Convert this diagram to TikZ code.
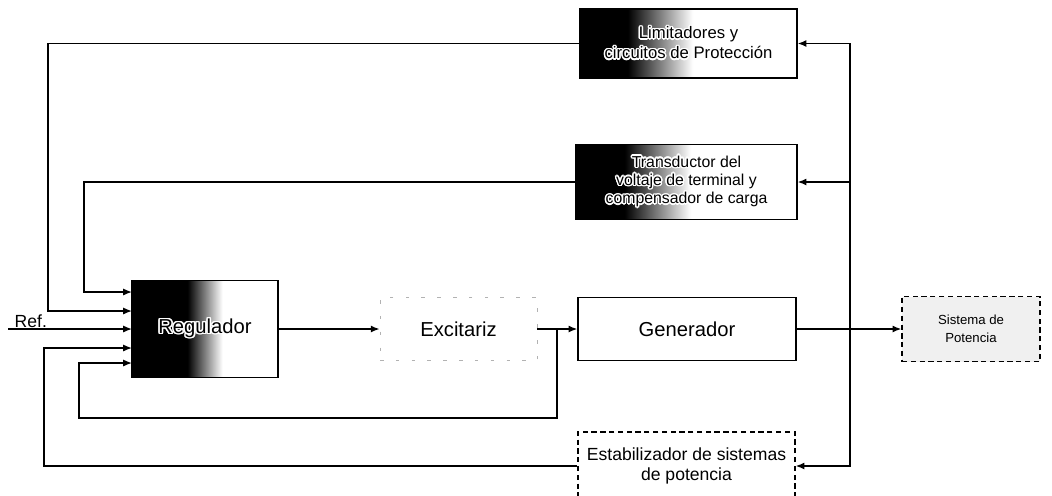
\documentclass[tikz,border=0pt]{standalone}
\usepackage{fontspec}
\setmainfont{Liberation Sans}
\usepackage{contour}
\usepackage{tikz}
\usetikzlibrary{positioning,arrows.meta}
\contourlength{0.8pt}
\pgfdeclarehorizontalshading{regshade}{100bp}{color(0bp)=(black); color(44bp)=(black); color(56bp)=(white); color(100bp)=(white)}
\pgfdeclarehorizontalshading{limshade}{100bp}{color(0bp)=(black); color(36bp)=(black); color(51bp)=(white); color(100bp)=(white)}
\newcommand{\cw}[1]{\contour{white}{#1}}

\begin{document}
\begin{tikzpicture}[x=0.02cm, y=-0.02cm, line width=0.8pt, >={Latex[length=5pt,width=4pt]},
  bloque/.style={draw, inner sep=2pt, align=center},
  grande/.style={font=\fontsize{11.5}{13}\selectfont}]
\useasboundingbox (0,0) rectangle (1052,495);
\node[bloque, shading=limshade, minimum width=4.34cm, minimum height=1.38cm, font=\fontsize{9.5}{11.5}\selectfont] (lim) at (688.5,43.5) {\cw{Limitadores y}\\\cw{circuitos de Protección}};
\node[bloque, shading=limshade, minimum width=4.42cm, minimum height=1.5cm, font=\fontsize{9}{10.4}\selectfont] (trans) at (686.5,182) {\cw{Transductor del}\\\cw{voltaje de terminal y}\\\cw{compensador de carga}};
\node[bloque, grande, shading=regshade, minimum width=2.92cm, minimum height=1.94cm] (reg) at (205,329) {\cw{Regulador}};
\node[bloque, grande, draw=gray!60, line width=0.5pt, dash pattern=on 2pt off 7pt, minimum width=3.14cm, minimum height=1.26cm] (exc) at (458.5,329) {Excitariz};
\node[bloque, grande, minimum width=4.36cm, minimum height=1.26cm] (gen) at (687,329) {Generador};
\node[bloque, fill=gray!12, densely dashed, minimum width=2.76cm, minimum height=1.3cm, font=\fontsize{7.5}{10}\selectfont] (sis) at (971,329) {Sistema de\\Potencia};
\node[bloque, densely dashed, minimum width=4.34cm, minimum height=1.36cm, font=\fontsize{10}{11.5}\selectfont] (est) at (686.5,466) {Estabilizador de sistemas\\de potencia};
% entradas del regulador
\coordinate (in1) at (132,292);
\coordinate (in2) at (132,311);
\coordinate (in3) at (132,329);
\coordinate (in4) at (132,348);
\coordinate (in5) at (132,363);
\coordinate (ref) at (8,329);
\coordinate (bus) at (850,329);
\coordinate (t) at (557,329);
\node[font=\fontsize{10}{12}\selectfont, anchor=base west, inner sep=0pt] (reflab) at (14,327) {Ref.};
\draw[->] (ref) -- (in3);
\foreach \x/\y in {reg/exc,exc/gen,gen/sis}
  \draw[->] (\x) -- (\y);
% realimentaciones
\draw[->] (bus) |- (lim.east);
\draw[->] (bus) |- (est.east);
\draw[->] (850,182) -- (trans.east);
\draw[->] (lim.west) -| (48,311) -- (in2);
\draw[->] (trans.west) -| (84,292) -- (in1);
\draw[->] (est.west) -| (44,348) -- (in4);
\draw[->] (t) |- (79,418) |- (in5);
\end{tikzpicture}
\end{document}
